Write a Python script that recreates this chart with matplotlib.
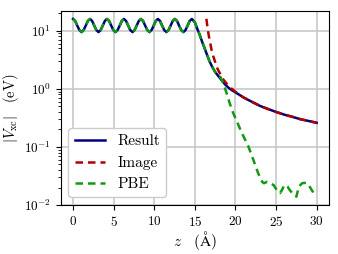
import numpy as np
import matplotlib
matplotlib.use("Agg")
import matplotlib.pyplot as plt

plt.rcParams['font.family'] = 'serif'
plt.rcParams['font.serif'] = ['cmr10', 'DejaVu Serif']
plt.rcParams['mathtext.fontset'] = 'cm'
plt.rcParams['axes.formatter.use_mathtext'] = True
plt.rcParams['axes.unicode_minus'] = False

# oscillating region (shared by all curves), one point every 1/8 period
z_osc = [0.00, 0.26, 0.52, 0.78, 1.05, 1.31, 1.57, 1.83, 2.09, 2.35, 2.61, 2.87,
         3.14, 3.40, 3.66, 3.92, 4.18, 4.44, 4.70, 4.96, 5.23, 5.49, 5.75, 6.01,
         6.27, 6.53, 6.79, 7.05, 7.32, 7.58, 7.84, 8.10, 8.36, 8.62, 8.88, 9.14,
         9.41, 9.67, 9.93, 10.19, 10.45, 10.71, 10.97, 11.23, 11.50, 11.76, 12.02,
         12.28, 12.54, 12.80, 13.06, 13.32, 13.59, 13.85, 14.11, 14.37, 14.63]
v_osc = [16.0, 14.8, 12.3, 10.3, 9.5, 10.3, 12.3, 14.8] * 7 + [16.0]

# decay after the last peak
z_decay = [15.0, 15.27, 15.6, 15.89, 16.2, 16.5, 16.8, 17.12, 17.5, 17.94]
v_decay = [14.0, 11.1, 8.5, 6.5, 5.0, 3.86, 3.0, 2.42, 1.95, 1.63]

# Result tail
z_res_tail = [18.4, 18.77, 19.2, 19.6, 20.0, 21.0, 22.0, 23.0, 24.0, 25.0,
              26.0, 27.0, 28.0, 29.0, 30.0]
v_res_tail = [1.35, 1.17, 1.03, 0.94, 0.87, 0.71, 0.60, 0.51, 0.45, 0.40,
              0.36, 0.33, 0.30, 0.28, 0.26]

# Image potential
z_img = [16.42, 16.55, 16.7, 16.85, 17.04, 17.25, 17.5, 17.8, 18.15, 18.5,
         18.98, 19.5, 20.0]
v_img = [16.1, 11.5, 8.5, 6.6, 4.8, 3.7, 2.9, 2.2, 1.78, 1.45,
         1.2, 1.02, 0.89]

# PBE tail
z_pbe_tail = [18.15, 18.5, 18.9, 19.3, 19.7, 20.2, 20.8, 21.6, 22.2, 22.8,
              23.3, 23.5, 23.9, 24.3, 24.7, 25.1, 25.5, 25.8, 26.0, 26.4,
              26.7, 27.0, 27.5, 27.8, 28.2, 28.5, 28.85, 29.2, 29.5, 30.0]
v_pbe_tail = [1.60, 1.25, 0.85, 0.56, 0.39, 0.27, 0.172, 0.101, 0.060, 0.035,
              0.025, 0.0237, 0.025, 0.0235, 0.022, 0.018, 0.016, 0.019, 0.022, 0.0207,
              0.018, 0.016, 0.0139, 0.0207, 0.0237, 0.024, 0.0237, 0.020, 0.017, 0.0195]

z_res = z_osc + z_decay + z_res_tail
v_res = v_osc + v_decay + v_res_tail
z_image = z_img + z_res_tail[5:]
v_image = v_img + v_res_tail[5:]
z_pbe = z_osc + z_decay + z_pbe_tail
v_pbe = v_osc + v_decay + v_pbe_tail

fig = plt.figure(figsize=(3.38, 2.54), dpi=100)
ax = fig.add_axes([0.180, 0.193, 0.793, 0.764])

ax.plot(z_res, v_res, color='navy', lw=1.8, label='Result')
ax.plot(z_image, v_image, color='#b00000', lw=1.8, ls=(0, (3, 2)), label='Image')
ax.plot(z_pbe, v_pbe, color='#119911', lw=1.8, ls=(0, (3, 2)), label='PBE')

ax.set_yscale('log')
ax.set_xlim(-1.5, 31.5)
ax.set_ylim(1e-2, 22)
ax.set_xticks([0, 5, 10, 15, 20, 25, 30])
ax.grid(True, which='major', color='#c8c8c8', lw=1.2)
ax.set_axisbelow(True)
ax.tick_params(labelsize=9.5)

ax.set_xlabel(r'$z\quad(\mathrm{\AA})$', fontsize=11, labelpad=0)
ax.set_ylabel(r'$|V_{\rm xc}|\quad({\rm eV})$', fontsize=10.5, labelpad=2)

ax.legend(loc='lower left', fontsize=11, fancybox=True, framealpha=1.0,
          edgecolor='#cccccc', handlelength=2.0)

fig.savefig('out.png', dpi=100)
